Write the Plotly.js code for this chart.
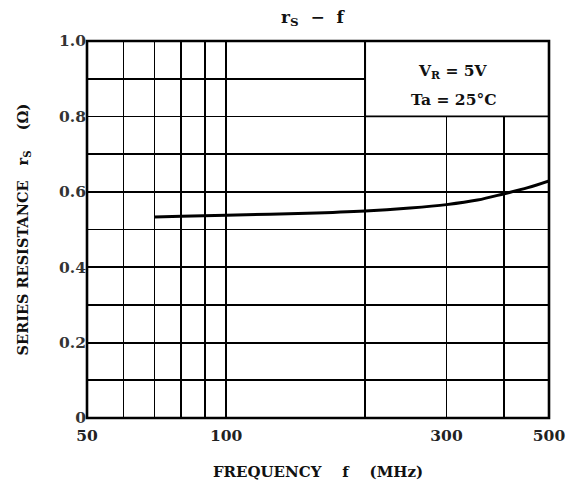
<!DOCTYPE html>
<html><head><meta charset="utf-8">
<script src="https://cdn.plot.ly/plotly-3.0.1.min.js"></script>
<style>html,body{margin:0;padding:0;background:#fff}#c{width:568px;height:483px}</style>
</head><body><div id="c"></div>
<script>
var freqMHz = [70, 80, 100, 150, 200, 250, 300, 350, 400, 450, 500];
var seriesRes = [0.533, 0.535, 0.538, 0.543, 0.549, 0.557, 0.566, 0.578, 0.595, 0.611, 0.629];
var xGridVals = [50, 60, 70, 80, 90, 100, 200, 300, 400, 500];
var xTickText = ['50', '', '', '', '', '100', '', '300', '', '500'];
var yGridVals = [0, 0.1, 0.2, 0.3, 0.4, 0.5, 0.6, 0.7, 0.8, 0.9, 1.0];
var yTickText = ['0', '', '0.2', '', '0.4', '', '0.6', '', '0.8', '', '1.0'];
var condLines = ['V<sub>R</sub> = 5V', 'Ta = 25°C'];

var serif = '"DejaVu Serif", "Liberation Serif", serif';
var trace = {
  x: freqMHz, y: seriesRes, type: 'scatter', mode: 'lines',
  line: {color: '#000', width: 3, shape: 'spline'}, hoverinfo: 'skip'
};
var layout = {
  width: 568, height: 483,
  margin: {l: 87, r: 19, t: 41, b: 65},
  paper_bgcolor: '#fff', plot_bgcolor: '#fff',
  showlegend: false,
  font: {family: serif, color: '#111'},
  title: {text: '<b>r<sub>S</sub>  −  f</b>', x: 0.55, xanchor: 'center', y: 0.965, yanchor: 'middle',
          font: {family: serif, size: 17, color: '#111'}},
  xaxis: {
    type: 'log', range: [Math.log10(50), Math.log10(500)],
    tickvals: xGridVals, ticktext: xTickText, ticks: '',
    ticklabelstandoff: 6,
    showgrid: true, gridcolor: '#000', gridwidth: 1.8,
    showline: false, zeroline: false,
    tickfont: {family: serif, size: 15.5, color: '#222', weight: 'bold'},
    title: {text: '<b>FREQUENCY    f    (MHz)</b>', font: {family: serif, size: 15, color: '#111'}, standoff: 22},
    automargin: false
  },
  yaxis: {
    range: [0, 1.0], tickvals: yGridVals, ticktext: yTickText, ticks: '',
    showgrid: true, gridcolor: '#000', gridwidth: 1.8,
    showline: false, zeroline: false,
    tickfont: {family: serif, size: 15.5, color: '#333', weight: 'bold'},
    title: {text: '<b>SERIES RESISTANCE   r<sub>S</sub>    (Ω)</b>', font: {family: serif, size: 14.5, color: '#111'}, standoff: 26},
    automargin: false
  },
  shapes: [
    {type: 'rect', xref: 'x', yref: 'y', x0: 200, x1: 500, y0: 0.8, y1: 1.0,
     fillcolor: '#fff', line: {color: '#000', width: 1.8}, layer: 'above'},
    {type: 'rect', xref: 'paper', yref: 'paper', x0: 0, x1: 1, y0: 0, y1: 1,
     line: {color: '#000', width: 2.6}, layer: 'above'}
  ],
  annotations: [
    {xref: 'x', yref: 'y', x: Math.log10(310), y: 0.918, text: '<b>' + condLines[0] + '</b>', showarrow: false,
     font: {family: serif, size: 15.5, color: '#111'}},
    {xref: 'x', yref: 'y', x: Math.log10(312), y: 0.845, text: '<b>' + condLines[1] + '</b>', showarrow: false,
     font: {family: serif, size: 15.5, color: '#111'}}
  ]
};
Plotly.newPlot('c', [trace], layout, {displayModeBar: false, staticPlot: true});
</script></body></html>
